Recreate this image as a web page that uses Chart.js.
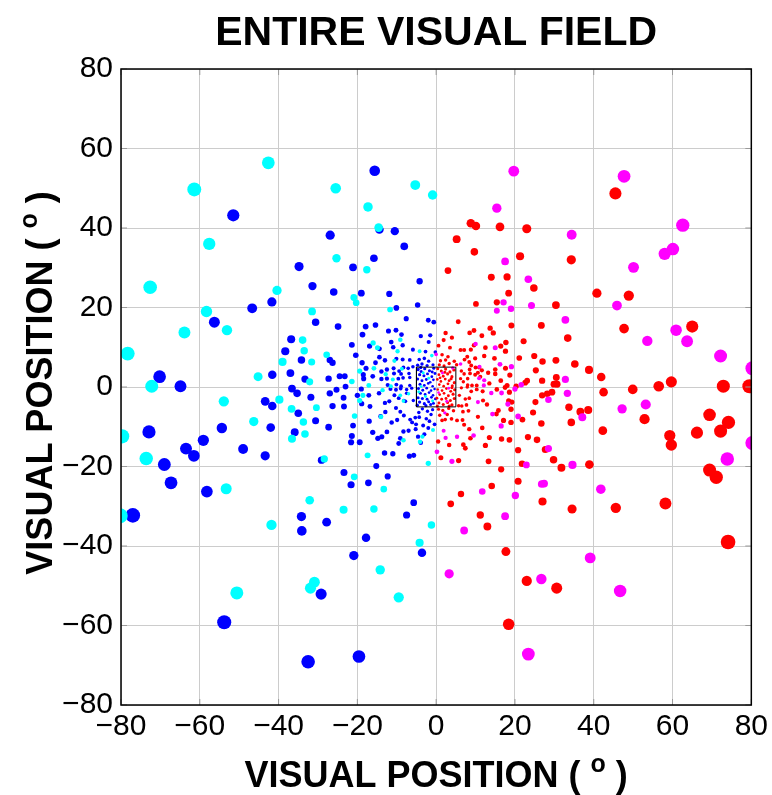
<!DOCTYPE html>
<html>
<head>
<meta charset="utf-8">
<script src="https://cdn.jsdelivr.net/npm/chart.js@4/dist/chart.umd.min.js"></script>
<style>
  html, body { margin: 0; padding: 0; background: #fff; }
  #wrap { width: 772px; height: 795px; }
</style>
</head>
<body>
<div id="wrap"><canvas id="c" width="772" height="795"></canvas></div>
<script>
// Receptive-field centres in degrees of visual angle, one list per population.
const blueField = [
  [-51.5,43.2],[-26.9,38.2],[-34.8,30.3],[-15.6,54.4],[-14.4,39.6],[-10.5,39.2],[-8.1,35.4],[-15.8,32.4],[-21.1,30.1],[-4.2,26.6],
  [-31.4,25.4],[-26.0,23.9],[-41.7,21.4],[-46.7,19.8],[-56.3,16.3],[-30.6,16.3],[-36.8,12.0],[-38.3,9.0],[-34.2,6.8],[-27.0,6.8],
  [-37.0,3.5],[-41.6,3.1],[-33.3,2.0],[-27.3,2.1],[-70.2,2.6],[-64.9,0.2],[-36.6,-0.4],[-35.3,-1.6],[-27.0,-1.6],[-31.8,-2.6],
  [-43.4,-3.6],[-41.6,-4.8],[-26.3,-4.8],[-35.0,-6.6],[-30.6,-8.5],[-54.4,-10.3],[-42.0,-10.2],[-27.3,-10.1],[-72.9,-11.3],[-35.9,-11.4],
  [-59.1,-13.4],[-63.5,-15.5],[-61.5,-17.3],[-49.0,-15.6],[-43.4,-17.3],[-69.0,-19.5],[-29.1,-18.4],[-67.3,-24.1],[-58.2,-26.3],
  [-77.0,-32.3],[-34.2,-32.6],[-27.8,-34.0],[-34.1,-36.2],[-29.2,-52.1],[-53.8,-59.2],[-32.5,-69.1],
  [-5.7,-29.1],[-7.5,-32.2],[-17.8,-37.9],[-3.6,-41.7],[-20.9,-42.4],[-19.6,-67.8],
  [-19.0,23.6],[-11.9,23.4],[-4.7,20.6],[-10.1,19.9],[-7.6,17.2],[-2.0,16.8],[-0.6,16.3],[-24.9,15.2],[-17.9,15.2],[-15.4,15.6],
  [-12.1,14.1],[-10.2,14.3],[-18.7,13.2],[-8.8,13.2],[-3.9,12.8],[-1.5,13.0],[-11.4,11.3],[-1.9,11.3],[-16.9,10.3],[-21.4,10.6],
  [-10.9,10.0],[-14.4,9.6],[-8.5,10.5],[-5.9,9.4],[-2.7,8.9],[-0.2,8.8],[-20.4,8.0],[-26.3,6.1],[-14.4,7.5],[-13.0,6.7],
  [-10.1,7.1],[-8.5,6.9],[-6.7,6.8],[-4.3,6.9],[-3.0,7.2],[-1.9,6.5],[-15.4,6.1],[-18.8,6.1],[-17.8,4.7],[-13.9,3.9],
  [-12.5,4.4],[-10.8,4.7],[-9.4,4.0],[-8.3,4.9],[-7.1,4.7],[-5.9,5.1],[-18.5,3.1],[-10.7,3.4],[-8.9,3.3],[-6.9,3.4],
  [-16.1,2.7],[-24.5,2.7],[-23.2,2.7],[-18.4,2.1],[-13.9,2.0],[-12.5,2.1],[-9.6,2.1],[-8.4,2.3],[-6.7,2.4],[-23.0,0.1],
  [-12.3,0.5],[-10.1,0.6],[-8.9,0.2],[-6.7,0.4],
  [-25.3,-0.7],[-19.0,-0.5],[-11.6,-0.5],[-10.2,-0.7],[-9.0,-0.4],[-7.5,-0.6],[-6.2,-0.3],[-23.5,-2.7],[-20.0,-2.1],[-17.1,-2.1],
  [-14.5,-1.6],[-11.9,-3.6],[-13.0,-4.0],[-10.6,-2.1],[-9.5,-2.8],[-8.2,-3.4],[-7.5,-1.6],[-7.8,-3.6],[-5.8,-3.4],[-23.4,-4.9],
  [-18.9,-4.2],[-16.8,-4.9],[-12.9,-6.3],[-10.2,-5.3],[-9.1,-6.2],[-14.1,-7.4],[-8.2,-7.2],[-9.9,-8.3],[-11.3,-8.9],[-6.6,-8.2],
  [-5.3,-7.7],[-4.3,-7.6],[-6.1,-8.9],[-2.5,-8.0],[-1.7,-8.6],[-0.4,-9.4],[-17.0,-8.6],[-21.1,-9.7],[-5.1,-9.4],[-3.3,-9.7],
  [-7.0,-11.0],[-8.3,-11.2],[-5.2,-10.6],[-2.0,-10.3],[-16.1,-11.4],[-12.5,-11.3],[-21.4,-12.3],[-13.8,-12.5],[-14.8,-12.9],[-3.0,-11.9],
  [-9.1,-12.9],[-4.6,-12.5],[-21.6,-13.9],[-19.4,-13.9],[-9.5,-14.2],[-3.9,-14.0],[-13.1,-16.6],[-11.0,-16.8],[-6.8,-17.4],[-5.7,-17.2],
  [-15.2,-19.9],[-23.4,-21.5],[-12.3,-22.5],[-17.2,-24.1],[-21.6,-24.6],
  [-0.8,5.6],[-2.3,5.4],[-3.6,5.8],[-4.7,5.5],[-0.9,-5.7],[-2.2,-6.1],[-3.5,-5.5],[-4.4,-6.4],[-1.3,-6.9],
  [-4.6,4.4],[-3.8,3.9],[-2.9,4.6],[-1.7,4.1],[-0.6,4.7],[-4.2,3.1],[-3.1,2.8],[-2.2,3.3],[-1.1,2.6],[-0.3,3.4],
  [-4.7,2.0],[-3.6,1.6],[-2.5,1.9],[-1.5,1.2],[-0.7,1.8],[-4.1,0.7],[-3.0,0.4],[-2.0,0.9],[-0.9,0.2],[-4.5,-0.4],
  [-3.4,-0.8],[-2.4,-0.3],[-1.3,-0.9],[-0.4,-0.5],[-4.0,-1.6],[-2.8,-1.9],[-1.8,-1.4],[-0.8,-2.1],[-4.6,-2.7],[-3.5,-2.9],
  [-2.3,-3.1],[-1.2,-2.6],[-0.2,-3.0],[-4.2,-3.8],[-3.0,-4.2],[-1.9,-3.7],[-0.7,-4.1],[-4.8,-4.6],[-2.6,-4.7],[-1.4,-4.4],
  [-3.9,4.9],[-1.0,3.8]
];

const cyanField = [
  [-42.6,56.4],[-61.4,49.7],[-57.6,36.0],[-25.5,50.0],[-5.3,50.8],[-0.9,48.3],[-17.3,45.3],[-14.6,40.1],[-25.3,32.4],[-17.6,29.5],
  [-72.6,25.1],[-40.4,24.3],[-58.3,19.0],[-31.5,19.0],[-53.1,14.3],[-63.9,13.7],[-33.9,11.8],[-78.3,8.4],[-33.5,9.1],[-27.8,8.1],
  [-39.0,6.3],[-31.6,6.3],[-45.2,2.6],[-32.1,1.3],[-72.2,0.2],[-53.9,-3.6],[-39.8,-3.2],[-30.4,-5.2],[-36.7,-5.5],[-46.3,-8.7],
  [-33.7,-8.8],[-79.7,-12.4],[-33.3,-11.8],[-36.6,-13.0],[-73.6,-18.0],[-28.4,-18.1],[-53.3,-25.6],
  [-80.2,-32.4],[-32.1,-28.5],[-41.8,-34.7],[-50.6,-51.8],[-30.9,-49.1],[-31.9,-50.6],
  [-23.5,-30.9],[-15.8,-30.7],[-1.2,-34.7],[-4.2,-39.2],[-14.2,-46.0],[-9.5,-52.9],
  [-20.9,22.5],[-20.3,21.2],[-11.7,19.5],[-9.1,11.9],[-16.0,11.1],[-14.9,9.9],[-9.8,9.0],[-4.2,9.0],[-1.1,7.9],[-10.6,6.6],
  [-19.4,4.0],[-15.8,4.7],[-8.7,4.6],[-12.8,3.2],[-11.0,1.9],[-21.4,1.4],[-17.1,0.4],[-11.5,0.2],
  [-13.6,-0.8],[-18.6,-2.1],[-19.4,-3.4],[-9.1,-2.1],[-8.3,-3.5],[-7.0,-1.7],[-20.7,-7.3],[-14.0,-7.5],[-0.8,-10.8],[-3.5,-12.5],
  [-8.3,-13.4],[-4.1,-13.8],[-17.4,-17.2],[-2.0,-19.2],[-20.8,-22.6],[-13.3,-25.7],
  [-3.3,3.6],[-1.9,2.2],[-4.4,-1.2],[-2.7,-2.4],[-0.9,-3.5],[-3.8,0.1]
];

const redField = [
  [5.2,37.2],[8.8,41.2],[10.1,40.5],[16.2,40.3],[23.0,39.8],[9.7,34.0],[21.3,32.9],[3.0,29.3],[14.0,27.6],[18.0,27.7],
  [45.5,48.7],[34.3,32.0],
  [40.8,23.6],[48.9,23.0],[30.4,20.6],[26.7,15.5],[47.7,14.7],[65.0,15.2],[33.4,12.3],[27.0,6.4],
  [30.4,6.7],[35.2,5.8],[38.8,4.3],[30.5,2.4],[41.9,2.5],[26.9,1.6],[29.9,0.7],[30.7,0.7],[59.7,1.3],[56.5,0.2],
  [72.9,0.2],[79.5,0.2],[49.9,-0.6],[42.5,-1.3],[29.4,-1.3],[28.2,-1.7],[26.9,-2.1],[33.7,-5.1],[36.6,-6.2],[38.6,-5.8],
  [52.9,-8.1],[69.4,-7.0],[74.2,-8.9],[26.7,-9.2],[34.3,-8.9],[42.3,-11.0],[66.2,-11.5],[72.2,-11.1],[59.3,-12.2],[59.7,-14.6],
  [27.7,-15.7],[29.8,-18.3],[31.8,-20.3],[38.9,-19.5],[69.4,-20.9],[71.1,-22.7],
  [6.3,-26.9],[27.0,-28.8],[3.7,-29.4],[11.2,-32.2],[13.0,-35.1],[17.7,-41.4],[23.0,-48.8],[18.4,-59.7],
  [34.5,-30.7],[45.6,-30.4],[58.2,-29.3],[74.1,-39.0],[30.6,-50.6],
  [24.8,24.9],[18.4,23.6],[10.1,20.9],[15.4,21.3],[5.6,16.4],[19.1,15.5],[2.4,13.6],[8.5,13.6],[9.6,14.2],[13.7,14.8],
  [14.5,13.6],[11.6,12.9],[22.2,11.5],[17.7,11.2],[3.5,9.9],[9.6,10.5],[12.5,9.9],[16.4,10.3],[6.2,9.3],[7.1,9.3],
  [8.8,9.4],[17.6,9.0],[12.2,7.8],[9.9,7.2],[7.9,7.6],[7.2,6.9],[14.8,7.2],[21.1,7.3],[24.9,7.8],[1.1,6.6],
  [2.4,6.8],[4.6,6.5],[5.2,5.6],[8.4,6.3],[8.9,5.4],[10.9,4.9],[10.0,4.9],[11.6,4.2],[15.0,4.4],[17.6,4.7],
  [25.3,4.2],[6.4,4.0],[7.1,3.3],[8.5,4.4],[8.6,3.4],[9.9,3.1],[10.6,3.6],[11.2,2.6],[13.2,3.6],[15.0,3.3],
  [16.4,1.6],[18.7,3.0],[23.1,1.6],[8.0,2.1],[6.2,2.1],[6.9,1.3],[8.0,0.5],[9.1,0.4],[10.3,0.4],[13.5,0.9],
  [18.0,0.4],[22.6,1.1],[20.3,0.2],
  [6.4,-0.2],[7.9,0.0],[8.9,-1.1],[10.3,-0.6],[11.8,-1.1],[15.4,-0.6],[17.5,-0.1],[18.6,-1.3],[5.9,-2.1],[7.4,-3.0],
  [8.4,-2.8],[11.9,-3.4],[12.9,-4.4],[18.4,-3.5],[19.2,-3.8],[25.2,-3.8],[15.8,-5.9],[19.0,-5.6],[5.7,-4.7],[6.5,-4.8],
  [7.7,-4.5],[6.8,-6.2],[8.2,-6.0],[15.3,-6.8],[24.6,-6.4],[10.6,-7.5],[1.5,-8.4],[2.3,-8.2],[3.9,-8.0],[5.3,-8.4],
  [6.7,-8.3],[17.1,-8.4],[21.9,-8.2],[19.0,-8.9],[7.1,-9.5],[8.4,-10.6],[11.7,-10.3],[8.7,-12.9],[13.5,-12.7],[16.6,-13.1],
  [18.6,-13.3],[23.3,-12.6],[25.6,-13.3],[6.9,-14.5],[7.4,-15.4],[12.5,-14.7],[20.8,-15.9],[5.7,-18.5],[13.3,-18.7],[21.8,-19.3],
  [16.5,-20.7],[20.8,-23.7],[14.1,-24.9],
  [0.8,5.6],[2.0,5.3],[3.3,5.9],[1.5,8.1],[3.0,7.6],[0.6,10.4],[1.9,11.8],[4.0,12.4],
  [0.6,-5.6],[1.7,-5.9],[3.2,-5.4],[4.4,-6.0],[0.9,-7.1],[2.8,-6.9],[0.5,-13.7],[3.3,-14.6],[1.2,-17.8],
  [0.4,4.6],[1.3,4.0],[2.4,4.5],[3.5,3.8],[4.5,4.3],[0.7,3.1],[1.8,2.7],[2.9,3.3],[4.0,2.6],[0.3,1.9],
  [1.2,1.4],[2.3,2.0],[3.3,1.6],[4.6,1.1],[0.8,0.6],[1.9,0.2],[3.0,0.8],[4.1,0.3],[0.4,-0.6],[1.5,-0.9],
  [2.6,-0.4],[3.7,-1.1],[4.7,-0.7],[0.9,-1.9],[2.0,-1.6],[3.1,-2.2],[4.3,-1.8],[0.2,-2.8],[1.4,-3.1],[2.5,-2.9],
  [3.6,-3.4],[4.6,-2.9],[0.7,-4.0],[1.8,-4.4],[2.9,-3.9],[4.0,-4.5],[0.3,-4.8],[3.3,-4.8],[2.2,3.7],[4.0,-0.2],
  [1.0,2.3],[3.8,2.1]
];

const magentaField = [
  [19.7,54.3],[15.4,45.0],[17.5,31.6],[23.4,27.1],[47.7,53.0],[62.6,40.7],[60.1,34.7],[58.0,33.5],[34.4,38.3],[50.1,30.1],
  [45.9,20.5],[32.8,16.9],[60.9,14.3],[53.6,11.6],[63.7,11.5],[72.2,7.8],[32.8,1.9],[28.5,-3.2],[33.3,-1.6],[53.2,-4.4],
  [47.2,-5.5],[37.1,-7.6],[80.3,-14.1],[80.3,4.7],[28.5,-15.5],[34.6,-19.6],[73.9,-18.1],[27.4,-24.3],[41.8,-25.7],
  [11.7,-26.3],[20.1,-27.3],[17.5,-32.5],[7.1,-36.1],[3.3,-47.0],[26.7,-48.3],[23.4,-67.2],
  [39.1,-43.0],[46.7,-51.3],
  [17.1,21.3],[24.2,20.5],[15.4,19.2],[19.0,19.7],[10.0,10.8],[15.0,9.9],[0.0,8.2],[6.2,5.8],[11.0,5.1],[16.2,5.7],
  [19.1,5.1],[10.9,2.2],[12.2,1.7],[12.1,0.4],[21.6,0.55],
  [14.0,-1.5],[16.6,-1.5],[20.0,-0.5],[10.6,-3.8],[18.2,-4.3],[2.2,-6.5],[14.3,-6.8],[20.8,-7.4],[16.5,-9.8],[1.9,-11.0],
  [9.5,-12.2],[2.4,-12.8],[5.3,-12.5],[0.2,-16.3],[4.0,-18.7],[22.9,-19.6],[26.8,-24.4],
  [1.6,3.5],[3.2,-0.3],[0.6,-1.4],[2.7,-3.6],[4.2,4.8]
];

// Outline of the central ±5° window
const fovealBox = [[-5,-5],[5,-5],[5,5],[-5,5],[-5,-5]];

const tickValues = [-80, -60, -40, -20, 0, 20, 40, 60, 80];
const tickLabels = ['\u221280', '\u221260', '\u221240', '\u221220', '0', '20', '40', '60', '80'];

const FONT = "'Liberation Sans', Arial, sans-serif";

const toXY = pts => pts.map(p => ({ x: p[0], y: p[1] }));

// Marker size grows with eccentricity
const radiusByEcc = ctx => {
  const p = ctx.raw;
  if (!p) return 1.5;
  return 1.2 + 0.073 * Math.hypot(p.x, p.y);
};

function scatterSet(label, pts, color) {
  return {
    type: 'scatter',
    label,
    data: toXY(pts),
    backgroundColor: color,
    borderColor: color,
    borderWidth: 0,
    pointRadius: radiusByEcc,
    pointHoverRadius: radiusByEcc,
    clip: 0
  };
}

function tickText(v) {
  const i = tickValues.indexOf(v);
  return i >= 0 ? tickLabels[i] : '';
}

// Draws a run of text pieces (some raised and smaller) centred on cx
function drawPieces(ctx, pieces, cx, baseY) {
  let total = 0;
  pieces.forEach(p => {
    ctx.font = 'bold ' + p.size + 'px ' + FONT;
    p.w = ctx.measureText(p.text).width;
    total += p.w;
  });
  let x = cx - total / 2;
  ctx.textAlign = 'left';
  ctx.textBaseline = 'alphabetic';
  pieces.forEach(p => {
    ctx.font = 'bold ' + p.size + 'px ' + FONT;
    ctx.fillText(p.text, x, baseY - (p.raise || 0));
    x += p.w;
  });
}

const framePlugin = {
  id: 'frameAndTitles',
  afterDraw(chart) {
    const ctx = chart.ctx;
    const a = chart.chartArea;
    const xs = chart.scales.x, ys = chart.scales.y;
    ctx.save();
    // inward tick marks
    ctx.strokeStyle = '#9a9a9a';
    ctx.lineWidth = 1;
    ctx.beginPath();
    tickValues.forEach(v => {
      const px = xs.getPixelForValue(v);
      ctx.moveTo(px, a.top); ctx.lineTo(px, a.top + 6);
      ctx.moveTo(px, a.bottom); ctx.lineTo(px, a.bottom - 6);
      const py = ys.getPixelForValue(v);
      ctx.moveTo(a.left, py); ctx.lineTo(a.left + 6, py);
      ctx.moveTo(a.right, py); ctx.lineTo(a.right - 6, py);
    });
    ctx.stroke();
    // axes frame
    ctx.strokeStyle = '#000';
    ctx.lineWidth = 1.5;
    ctx.strokeRect(a.left, a.top, a.right - a.left, a.bottom - a.top);

    ctx.fillStyle = '#000';
    const cx = (a.left + a.right) / 2;
    // main title
    drawPieces(ctx, [{ text: 'ENTIRE VISUAL FIELD', size: 41 }], cx, 45);
    // axis titles
    const axisTitle = [
      { text: 'VISUAL POSITION ( ', size: 36 },
      { text: 'o', size: 25, raise: 15 },
      { text: ' )', size: 36 }
    ];
    drawPieces(ctx, axisTitle, cx, 787);
    ctx.save();
    ctx.translate(52, (a.top + a.bottom) / 2 - 4);
    ctx.rotate(-Math.PI / 2);
    drawPieces(ctx, axisTitle, 0, 0);
    ctx.restore();
    ctx.restore();
  }
};

const axisCommon = {
  type: 'linear',
  min: -80,
  max: 80,
  grid: { color: '#cccccc', lineWidth: 1, drawTicks: false },
  border: { display: false },
  ticks: {
    stepSize: 20,
    color: '#000',
    font: { family: FONT, size: 30 },
    callback: v => tickText(v)
  }
};

new Chart(document.getElementById('c'), {
  type: 'scatter',
  data: {
    datasets: [
      {
        type: 'line',
        label: 'window',
        data: toXY(fovealBox),
        borderColor: '#000',
        borderWidth: 1,
        pointRadius: 0,
        fill: false,
        tension: 0,
        showLine: true
      },
      scatterSet('magenta', magentaField, '#ff00ff'),
      scatterSet('red', redField, '#ff0000'),
      scatterSet('cyan', cyanField, '#00ffff'),
      scatterSet('blue', blueField, '#0000ff')
    ]
  },
  options: {
    responsive: false,
    animation: false,
    events: [],
    layout: { padding: { top: 69, right: 19, left: 0, bottom: 0 } },
    plugins: { legend: { display: false }, tooltip: { enabled: false }, title: { display: false } },
    scales: {
      x: Object.assign({}, axisCommon, {
        ticks: Object.assign({}, axisCommon.ticks, { padding: 4, maxRotation: 0, autoSkip: false }),
        afterFit: s => { s.height = 90; }
      }),
      y: Object.assign({}, axisCommon, {
        ticks: Object.assign({}, axisCommon.ticks, { padding: 8, autoSkip: false }),
        afterFit: s => { s.width = 121; }
      })
    }
  },
  plugins: [framePlugin]
});
</script>
</body>
</html>
